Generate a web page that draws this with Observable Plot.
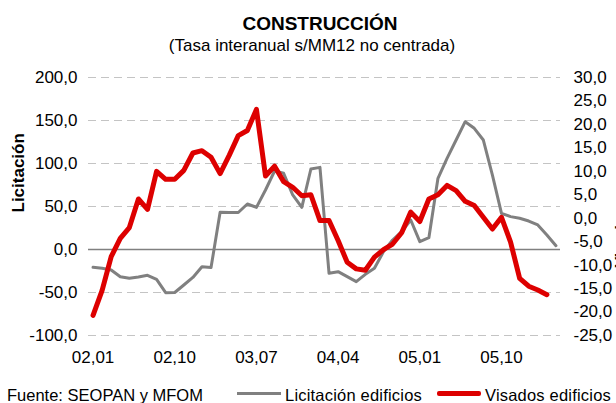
<!DOCTYPE html>
<html>
<head>
<meta charset="utf-8">
<script src="https://cdn.jsdelivr.net/npm/d3@7"></script>
<script src="https://cdn.jsdelivr.net/npm/@observablehq/plot@0.6"></script>
<style>
  html, body { margin: 0; padding: 0; background: #fff; overflow: hidden; }
  #wrap { position: relative; width: 616px; height: 403px; font-family: "Liberation Sans", Arial, sans-serif; color: #000; }
  .abs { position: absolute; white-space: nowrap; line-height: 1; }
  #title { left: 0; width: 640px; top: 14px; text-align: center; font-size: 19px; font-weight: bold; }
  #subtitle { left: 0; width: 624px; top: 37px; text-align: center; font-size: 17px; }
  #chart { position: absolute; left: 0; top: 62px; width: 616px; height: 308px; overflow: hidden; }
  .leg { top: 387px; font-size: 16.5px; }
  .sw { position: absolute; }
</style>
</head>
<body>
<div id="wrap">
  <div id="title" class="abs">CONSTRUCCIÓN</div>
  <div id="subtitle" class="abs">(Tasa interanual s/MM12 no centrada)</div>
  <div id="chart"></div>
  <div class="abs leg" style="left:7px">Fuente: SEOPAN y MFOM</div>
  <div class="sw" style="left:237px; top:392px; width:44px; height:3px; background:#808080"></div>
  <div class="abs leg" style="left:285px; letter-spacing:0.2px">Licitación edificios</div>
  <div class="sw" style="left:437px; top:391px; width:44px; height:5px; background:#dd0000; border-radius:2px"></div>
  <div class="abs leg" style="left:485px; letter-spacing:0.2px">Visados edificios</div>
</div>
<script>
// Month categories: 2002-01 .. 2006-04
const years = ["02", "03", "04", "05", "06"];
const months = [];
for (const y of years) for (let m = 1; m <= 12; m++) {
  if (y === "06" && m > 4) break;
  months.push(y + "," + String(m).padStart(2, "0"));
}
const tickLabels = ["02,01", "02,10", "03,07", "04,04", "05,01", "05,10"];

// Licitación edificios (left axis)
const licitacion = [
  -20.7, -21.9, -23.8, -31.6, -33.5, -32.0, -30.0, -34.7, -50.2, -50.0,
  -41.3, -32.5, -20.0, -21.0, 43.2, 43.0, 43.0, 52.9, 49.0, 69.2,
  91.3, 88.6, 63.4, 49.0, 93.6, 95.5, -27.7, -25.8, -31.6, -37.4,
  -28.9, -21.9, -2.5, 11.0, 20.7, 34.3, 9.1, 13.7, 82.8, 106.0,
  127.3, 148.6, 140.9, 127.3, 86.6, 42.1, 38.2, 36.3, 33.1, 28.5,
  16.9, 4.4
];
// Visados edificios (right axis)
const visados = [
  -20.7, -15.4, -8.2, -4.3, -2.0, 4.1, 1.9, 10.0, 8.3, 8.3,
  10.2, 13.9, 14.4, 13.0, 9.5, 13.4, 17.6, 18.7, 23.2, 9.0,
  11.1, 7.8, 6.6, 4.8, 5.0, -0.5, -0.5, -4.75, -9.4, -10.8,
  -11.1, -8.3, -6.7, -5.5, -3.1, 1.3, -0.7, 4.1, 5.0, 7.0,
  5.9, 3.6, 2.7, 0.2, -2.3, 0.2, -5.1, -12.8, -14.5, -15.3,
  -16.3
];
const leftTicks = [-100, -50, 0, 50, 100, 150, 200];
const rightTicks = [-25, -20, -15, -10, -5, 0, 5, 10, 15, 20, 25, 30];

const L = [-100, 200], R = [-25, 30];
const toLeft = r => L[0] + (r - R[0]) * (L[1] - L[0]) / (R[1] - R[0]);
const toRight = v => R[0] + (v - L[0]) * (R[1] - R[0]) / (L[1] - L[0]);
const loc = d3.formatLocale({decimal: ",", thousands: ".", grouping: [3], currency: ["", "€"], minus: "-"});
const f1 = loc.format(".1f");

const licData = licitacion.map((v, i) => ({i, m: months[i], v}));
const visData = visados.map((v, i) => ({i, m: months[i], v: toLeft(v)}));
const tickIdx = tickLabels.map(t => months.indexOf(t));

const chart = Plot.plot({
  width: 616,
  height: 308,
  marginLeft: 88,
  marginRight: 56,
  marginTop: 15,
  marginBottom: 35,
  style: {fontFamily: "'Liberation Sans', Arial, sans-serif", fontSize: "17px", color: "#000", background: "#fff"},
  x: {domain: [-0.5, months.length - 0.5]},
  y: {domain: L},
  marks: [
    Plot.ruleY(leftTicks.filter(v => v !== 0), {stroke: "#c4c4c4", strokeWidth: 1, strokeDasharray: "8,5"}),
    Plot.ruleY([0], {stroke: "#808080", strokeWidth: 1.5}),
    Plot.axisY(leftTicks, {anchor: "left", tickSize: 0, tickPadding: 11, tickFormat: d => f1(d), label: null, fontSize: 17}),
    Plot.axisY(rightTicks.map(toLeft), {anchor: "right", tickSize: 0, tickPadding: 13, tickFormat: d => f1(Math.round(toRight(d) * 10) / 10), label: null, fontSize: 17}),
    Plot.axisX(tickIdx, {tickSize: 0, tickPadding: 15, tickFormat: d => months[d], label: null, fontSize: 17}),
    Plot.line(licData, {x: "i", y: "v", stroke: "#808080", strokeWidth: 3, strokeLinejoin: "round"}),
    Plot.line(visData, {x: "i", y: "v", stroke: "#dd0000", strokeWidth: 5, strokeLinejoin: "round"}),
    Plot.text(["Licitación"], {frameAnchor: "left", dx: -70, dy: 6, rotate: -90, fontWeight: "bold", fontSize: 17}),
    Plot.text(["Visados"], {frameAnchor: "right", dx: 61, rotate: -90, fontWeight: "bold", fontSize: 16})
  ]
});
document.getElementById("chart").appendChild(chart);
</script>
</body>
</html>
